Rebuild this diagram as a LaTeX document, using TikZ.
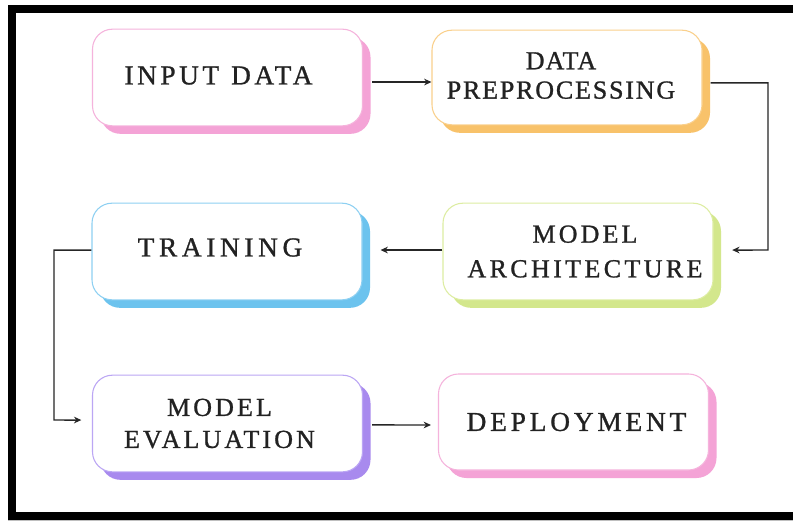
\documentclass[tikz,border=0pt]{standalone}
\usepackage{fontspec}
\newfontfamily\boxfont[FakeBold=1]{Liberation Serif}
\usetikzlibrary{arrows.meta,shadows}
\definecolor{pinkB}{HTML}{F5B3DC}
\definecolor{pinkS}{HTML}{F4A3D6}
\definecolor{orangeB}{HTML}{FAD08C}
\definecolor{orangeS}{HTML}{F8C26A}
\definecolor{greenB}{HTML}{DDEDA2}
\definecolor{greenS}{HTML}{D3E78C}
\definecolor{blueB}{HTML}{8ED0F2}
\definecolor{blueS}{HTML}{6CC3EE}
\definecolor{purpleB}{HTML}{BBA6F4}
\definecolor{purpleS}{HTML}{A88AEE}
\definecolor{txt}{HTML}{222222}
\newcommand{\ls}[2]{{\addfontfeatures{LetterSpace=#1}#2}}
\tikzset{
  stepbox/.style 2 args={draw=#1, line width=0.8pt, fill=white,
    rounded corners=15pt, minimum width=202.5pt, minimum height=72.5pt,
    inner sep=0pt,
    drop shadow={shadow xshift=6pt, shadow yshift=-6pt, fill=#2, opacity=1}},
  lbl/.style={align=center, text=txt, inner sep=0pt,
    font=\boxfont\fontsize{20.5}{23}\selectfont},
  lbltwo/.style={lbl, font=\boxfont\fontsize{19.5}{23}\selectfont},
  arr/.style={draw=black!85, line width=1.1pt, -{Stealth[length=5.5pt,width=5pt]}},
  frame/.style={line width=6pt, draw=black, line join=miter}
}
\begin{document}
\begin{tikzpicture}[x=0.75pt,y=-0.75pt]
\useasboundingbox (0,0) rectangle (793,521);
\fill[white] (0,0) rectangle (793,521);
\draw[gray!50, line width=0.8pt] (8,520) -- (793,520);
\draw[frame] (793,9) -- (12,9) -- (12,515.5) -- (793,515.5);

\node[stepbox={pinkB}{pinkS},
  label={[lbl, xshift=-6.75pt, yshift=1.5pt]center:{\ls{13}{INPUT}\hspace{9pt}\ls{13}{DATA}}}]
  (input) at (227.5,77.5) {};
\node[stepbox={orangeB}{orangeS}, minimum height=71pt,
  label={[lbltwo, xshift=-4.5pt, yshift=1.5pt]center:{\ls{4}{DATA}\\[-1pt]\ls{7}{PREPROCESSING}}}]
  (prep) at (567,77.5) {};
\node[stepbox={greenB}{greenS},
  label={[lbltwo, xshift=5.25pt]center:{\ls{12}{MODEL}\\[3pt]\ls{13}{ARCHITECTURE}}}]
  (arch) at (578,251.5) {};
\node[stepbox={blueB}{blueS},
  label={[lbl, xshift=-5.25pt, yshift=3pt]center:{\ls{17}{TRAINING}}}]
  (train) at (227,251.5) {};
\node[stepbox={purpleB}{purpleS},
  label={[lbltwo, xshift=-6pt]center:{\ls{12}{MODEL}\\[1pt]\ls{12}{EVALUATION}}}]
  (evalu) at (227.5,423.5) {};
\node[stepbox={pinkB}{pinkS}, minimum height=72pt,
  label={[lbl, xshift=2.25pt]center:{\ls{14}{DEPLOYMENT}}}]
  (deploy) at (573.5,422) {};

\coordinate (bendR) at (768,250);
\coordinate (bendL) at (54,420);

\draw[arr] ([xshift=6.75pt,yshift=-3.4pt]input.east) -- ([yshift=-3.4pt]prep.west);
\draw[arr] ([xshift=6pt,yshift=-4.1pt]prep.east) -| (bendR) -- ([xshift=14pt,yshift=1.1pt]arch.east);
\draw[arr] ([yshift=1.1pt]arch.west) -- ([xshift=13.5pt,yshift=1.1pt]train.east);
\draw[arr] ([yshift=1.1pt]train.west) -| (bendL) -- ([xshift=-8pt,yshift=2.6pt]evalu.west);
\draw[arr] ([xshift=6.75pt,yshift=-1.1pt]evalu.east) -- ([xshift=-5.25pt,yshift=-2.25pt]deploy.west);
\end{tikzpicture}
\end{document}
